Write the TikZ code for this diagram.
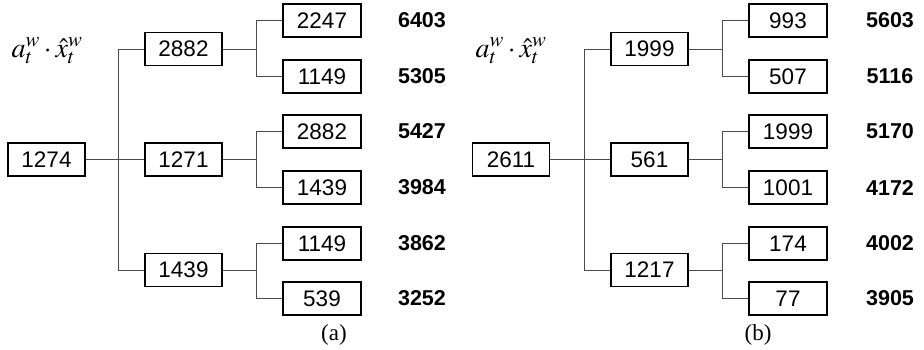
\documentclass[tikz,border=0pt]{standalone}
\usepackage{mathptmx}
\usepackage{fontspec}
\setmainfont{Liberation Serif}
\newfontfamily\arialfont{Liberation Sans}
\begin{document}
\begin{tikzpicture}[x=1pt,y=-1pt,
  box/.style={draw=black,line width=1.2pt,minimum width=77pt,minimum height=33pt,
    inner sep=0pt,font=\arialfont\fontsize{22.5}{24}\selectfont},
  leaf/.style={box,minimum width=78pt},
  score/.style={font=\arialfont\bfseries\fontsize{21.5}{24}\selectfont},
  wire/.style={draw=black!70,line width=0.9pt},
  sublabel/.style={font=\fontsize{23}{25}\selectfont},
  formula/.style={anchor=base,inner sep=0pt,font=\fontsize{28}{30}\selectfont}]
\useasboundingbox (0,0) rectangle (924,349);

% ---------- tree (a) ----------
\node[box] (aR) at (46.5,159.5) {1274};
\node[box] (aM1) at (183.5,49) {2882};
\node[box] (aM2) at (183.5,159.5) {1271};
\node[box] (aM3) at (183.5,270) {1439};
\node[leaf] (aL1) at (322,20.5) {2247};
\node[leaf] (aL2) at (322,76.5) {1149};
\node[leaf] (aL3) at (322,131.5) {2882};
\node[leaf] (aL4) at (322,187.5) {1439};
\node[leaf] (aL5) at (322,243.5) {1149};
\node[leaf] (aL6) at (322,298.5) {539};
\node[score] (aS1) at (422,20.5) {6403};
\node[score] (aS2) at (422,76.5) {5305};
\node[score] (aS3) at (422,131.5) {5427};
\node[score] (aS4) at (422,187.5) {3984};
\node[score] (aS5) at (422,243.5) {3862};
\node[score] (aS6) at (422,298.5) {3252};
\node[sublabel] (aC) at (334,335) {(a)};
\node[formula] (aF) at (47,57) {$a_t^w\cdot\hat{x}_t^w$};
\coordinate (aT) at (118,0);
\coordinate (aB) at (256,0);

\draw[wire] (aR) -- (aM2);
\draw[wire] (aM1.west) -- (aM1.west -| aT) -- (aM3.west -| aT) -- (aM3.west);
\foreach \m/\p/\q in {aM1/aL1/aL2, aM2/aL3/aL4, aM3/aL5/aL6}{
  \draw[wire] (\m.east) -- (\m.east -| aB);
  \draw[wire] (\p.west) -- (\p.west -| aB) -- (\q.west -| aB) -- (\q.west);
}

% ---------- tree (b) ----------
\node[box] (bR) at (511,159.5) {2611};
\node[box] (bM1) at (649.5,49) {1999};
\node[box] (bM2) at (649.5,159.5) {561};
\node[box] (bM3) at (649.5,270) {1217};
\node[leaf] (bL1) at (788,20.5) {993};
\node[leaf] (bL2) at (788,76.5) {507};
\node[leaf] (bL3) at (788,131.5) {1999};
\node[leaf] (bL4) at (788,187.5) {1001};
\node[leaf] (bL5) at (788,243.5) {174};
\node[leaf] (bL6) at (788,298.5) {77};
\node[score] (bS1) at (890,20.5) {5603};
\node[score] (bS2) at (890,76.5) {5116};
\node[score] (bS3) at (890,131.5) {5170};
\node[score] (bS4) at (890,187.5) {4172};
\node[score] (bS5) at (890,243.5) {4002};
\node[score] (bS6) at (890,298.5) {3905};
\node[sublabel] (bC) at (758,335) {(b)};
\node[formula] (bF) at (511,57) {$a_t^w\cdot\hat{x}_t^w$};
\coordinate (bT) at (584,0);
\coordinate (bB) at (722,0);

\draw[wire] (bR) -- (bM2);
\draw[wire] (bM1.west) -- (bM1.west -| bT) -- (bM3.west -| bT) -- (bM3.west);
\foreach \m/\p/\q in {bM1/bL1/bL2, bM2/bL3/bL4, bM3/bL5/bL6}{
  \draw[wire] (\m.east) -- (\m.east -| bB);
  \draw[wire] (\p.west) -- (\p.west -| bB) -- (\q.west -| bB) -- (\q.west);
}
\end{tikzpicture}
\end{document}
